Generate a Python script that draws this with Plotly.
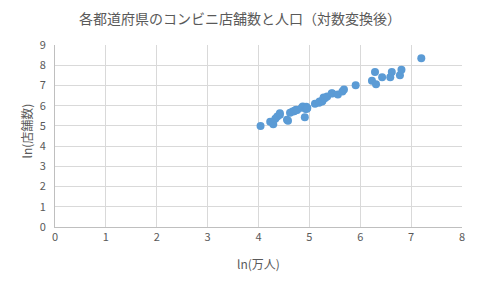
import plotly.graph_objects as go

# ln(population in 万人) and ln(store count)
ln_pop = [4.04, 4.23, 4.29, 4.33, 4.37, 4.42, 4.42, 4.58, 4.56, 4.62,
          4.67, 4.70, 4.72, 4.74, 4.76, 4.85, 4.87, 4.91, 4.93, 4.93,
          4.94, 4.95, 4.96, 5.11, 5.19, 5.20, 5.25, 5.26, 5.28, 5.28,
          5.31, 5.35, 5.45, 5.44, 5.56, 5.65, 5.68, 5.91, 6.23, 6.29,
          6.31, 6.43, 6.59, 6.62, 6.78, 6.81, 7.20]
ln_stores = [5.00, 5.21, 5.08, 5.35, 5.46, 5.55, 5.63, 5.26, 5.30, 5.65,
             5.71, 5.72, 5.76, 5.80, 5.78, 5.90, 5.96, 5.43, 5.84, 5.90,
             5.95, 5.85, 5.88, 6.10, 6.15, 6.20, 6.20, 6.25, 6.35, 6.40,
             6.38, 6.45, 6.60, 6.62, 6.55, 6.70, 6.80, 7.01, 7.23, 7.66,
             7.06, 7.41, 7.41, 7.66, 7.51, 7.77, 8.35]

title_text = "各都道府県のコンビニ店舗数と人口（対数変換後）"
x_title = "ln(万人)"
y_title = "ln(店舗数)"

FONT = "Noto Sans CJK JP, Liberation Sans, sans-serif"
GREY = "#595959"

fig = go.Figure(go.Scatter(
    x=ln_pop, y=ln_stores, mode="markers",
    marker=dict(size=8, color="#5B9BD5", line=dict(width=0)),
))

fig.update_layout(
    width=480, height=288,
    margin=dict(l=55, r=18, t=45, b=61),
    paper_bgcolor="white", plot_bgcolor="white",
    showlegend=False,
    font=dict(family=FONT, color=GREY, size=11),
    title=dict(text=title_text, x=0.5, xanchor="center", y=0.935, yanchor="middle",
               font=dict(family=FONT, size=14, color=GREY)),
    xaxis=dict(range=[0, 8], dtick=1, showgrid=True, gridcolor="#D9D9D9", gridwidth=1,
               zeroline=False, showline=True, linecolor="#BFBFBF", linewidth=1,
               ticks="", tickfont=dict(size=11, color=GREY), fixedrange=True),
    yaxis=dict(range=[0, 9], dtick=1, showgrid=True, gridcolor="#D9D9D9", gridwidth=1,
               zeroline=False, showline=True, linecolor="#BFBFBF", linewidth=1,
               ticks="", ticklabelstandoff=6, tickfont=dict(size=11, color=GREY), fixedrange=True),
    annotations=[
        dict(text=x_title, xref="paper", yref="paper", x=0.5, y=-0.198,
             xanchor="center", yanchor="middle", showarrow=False,
             font=dict(family=FONT, size=12, color=GREY)),
        dict(text=y_title, xref="paper", yref="paper", x=-0.069, y=0.53,
             xanchor="center", yanchor="middle", textangle=-90, showarrow=False,
             font=dict(family=FONT, size=12, color=GREY)),
    ],
)

fig.write_html("out.html")
